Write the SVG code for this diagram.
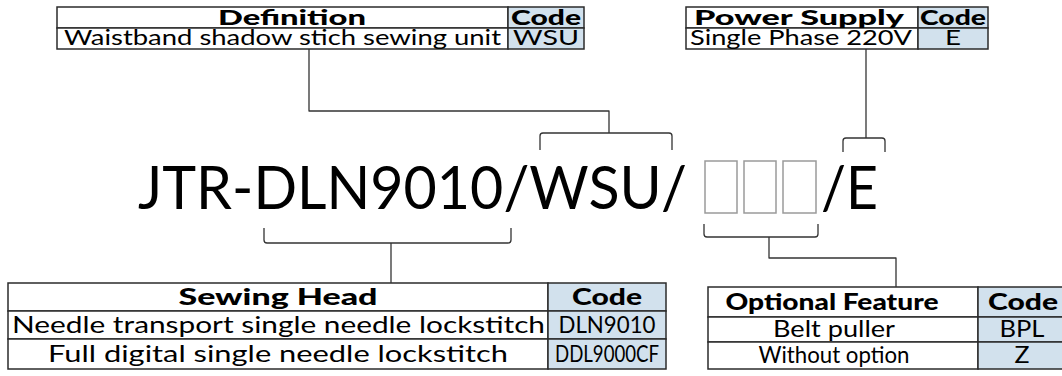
<svg xmlns="http://www.w3.org/2000/svg" width="1062" height="376" viewBox="0 0 1062 376">
<style>
.cell{fill:#ffffff;stroke:#2b2b2b;stroke-width:1.5}
.code{fill:#d2e1ed;stroke:#2b2b2b;stroke-width:1.5}
.h{font-family:Lato,"Noto Sans",sans-serif;font-weight:900;font-size:21px;fill:#000}
.t{font-family:Lato,"Noto Sans",sans-serif;font-size:21px;fill:#000}
.h2{font-family:Lato,"Noto Sans",sans-serif;font-weight:900;font-size:23px;fill:#000}
.t2{font-family:Lato,"Noto Sans",sans-serif;font-size:23px;fill:#000}
.big{font-family:Lato,"Noto Sans",sans-serif;font-size:60px;fill:#000}
.ln{fill:none;stroke:#333;stroke-width:1.3;stroke-linejoin:round}
.box{fill:none;stroke:#9a9a9a;stroke-width:1.5}
</style>
<g id="definition">
<rect class="cell" x="57" y="7" width="451" height="21"/>
<rect class="code" x="508" y="7" width="76" height="21"/>
<rect class="cell" x="57" y="28" width="451" height="21"/>
<rect class="code" x="508" y="28" width="76" height="21"/>
<text class="h" x="292" y="25" text-anchor="middle" textLength="148" lengthAdjust="spacingAndGlyphs">Definition</text>
<text class="h" x="546" y="25" text-anchor="middle" textLength="70" lengthAdjust="spacingAndGlyphs">Code</text>
<text class="t" x="64" y="45" textLength="437" lengthAdjust="spacingAndGlyphs">Waistband shadow stich sewing unit</text>
<text class="t" x="546" y="45" text-anchor="middle" textLength="66" lengthAdjust="spacingAndGlyphs">WSU</text>
</g>
<g id="power">
<rect class="cell" x="686" y="7" width="232" height="21"/>
<rect class="code" x="918" y="7" width="70" height="21"/>
<rect class="cell" x="686" y="28" width="232" height="21"/>
<rect class="code" x="918" y="28" width="70" height="21"/>
<text class="h" x="799" y="25" text-anchor="middle" textLength="210" lengthAdjust="spacingAndGlyphs">Power Supply</text>
<text class="h" x="953" y="25" text-anchor="middle" textLength="66" lengthAdjust="spacingAndGlyphs">Code</text>
<text class="t" x="690" y="45" textLength="222" lengthAdjust="spacingAndGlyphs">Single Phase 220V</text>
<text class="t" x="953" y="45" text-anchor="middle" textLength="16" lengthAdjust="spacingAndGlyphs">E</text>
</g>
<g id="model">
<text class="big" x="138" y="209" textLength="549" lengthAdjust="spacingAndGlyphs">JTR-DLN9010/WSU/</text>
<rect class="box" x="705" y="161" width="32" height="52"/>
<rect class="box" x="744" y="161" width="32" height="52"/>
<rect class="box" x="783" y="161" width="33" height="52"/>
<text class="big" x="821" y="209" textLength="57" lengthAdjust="spacingAndGlyphs">/E</text>
</g>
<g id="sewing-head">
<rect class="cell" x="8" y="283" width="540" height="28"/>
<rect class="code" x="548" y="283" width="118" height="28"/>
<rect class="cell" x="8" y="311" width="540" height="28"/>
<rect class="code" x="548" y="311" width="118" height="28"/>
<rect class="cell" x="8" y="339" width="540" height="30"/>
<rect class="code" x="548" y="339" width="118" height="30"/>
<text class="h2" x="278" y="305" text-anchor="middle" textLength="199" lengthAdjust="spacingAndGlyphs">Sewing Head</text>
<text class="h2" x="607" y="305" text-anchor="middle" textLength="70" lengthAdjust="spacingAndGlyphs">Code</text>
<text class="t2" x="12" y="333" textLength="533" lengthAdjust="spacingAndGlyphs">Needle transport single needle lockstitch</text>
<text class="t2" x="607" y="333" text-anchor="middle" textLength="97" lengthAdjust="spacingAndGlyphs">DLN9010</text>
<text class="t2" x="278" y="362" text-anchor="middle" textLength="460" lengthAdjust="spacingAndGlyphs">Full digital single needle lockstitch</text>
<text class="t2" x="607" y="362" text-anchor="middle" textLength="104" lengthAdjust="spacingAndGlyphs">DDL9000CF</text>
</g>
<g id="optional-feature">
<rect class="cell" x="708" y="287" width="270" height="30"/>
<rect class="code" x="978" y="287" width="90" height="30"/>
<rect class="cell" x="708" y="317" width="270" height="25"/>
<rect class="code" x="978" y="317" width="90" height="25"/>
<rect class="cell" x="708" y="342" width="270" height="27"/>
<rect class="code" x="978" y="342" width="90" height="27"/>
<text class="h2" x="832" y="310" text-anchor="middle" textLength="213" lengthAdjust="spacingAndGlyphs">Optional Feature</text>
<text class="h2" x="1023" y="310" text-anchor="middle" textLength="70" lengthAdjust="spacingAndGlyphs">Code</text>
<text class="t2" x="834" y="337" text-anchor="middle" textLength="122" lengthAdjust="spacingAndGlyphs">Belt puller</text>
<text class="t2" x="1022" y="337" text-anchor="middle" textLength="45" lengthAdjust="spacingAndGlyphs">BPL</text>
<text class="t2" x="834" y="363" text-anchor="middle" textLength="151" lengthAdjust="spacingAndGlyphs">Without option</text>
<text class="t2" x="1022" y="363" text-anchor="middle" textLength="15" lengthAdjust="spacingAndGlyphs">Z</text>
</g>
<g id="connectors">
<path class="ln" d="M309 49 V111 H609 V133"/>
<path class="ln" d="M540 150 V136 Q540 133 543 133 H669 Q672 133 672 136 V150"/>
<path class="ln" d="M866 49 V138"/>
<path class="ln" d="M843 152 V141 Q843 138 846 138 H882 Q885 138 885 141 V152"/>
<path class="ln" d="M264 228 V240 Q264 243 267 243 H508 Q511 243 511 240 V228"/>
<path class="ln" d="M391 243 V283"/>
<path class="ln" d="M704 224 V234 Q704 237 707 237 H815 Q818 237 818 234 V224"/>
<path class="ln" d="M769 237 V258 H896 V287"/>
</g>
</svg>
